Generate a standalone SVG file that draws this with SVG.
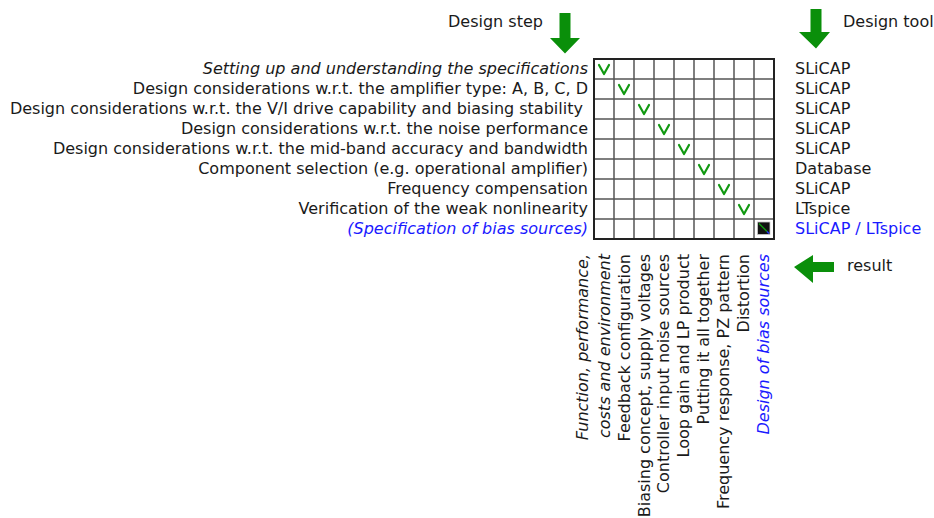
<svg xmlns="http://www.w3.org/2000/svg" width="934" height="518" viewBox="0 0 934 518">
<defs>
<style>
text{font-family:"DejaVu Sans","Verdana",sans-serif;font-size:16px;fill:#1a1a1a}
.e{text-anchor:end}
.i{font-style:italic}
.b{fill:#1a1aff}
.arr{fill:#0a8f0a}
.chk{fill:none;stroke:#119911;stroke-width:2.2;stroke-linecap:round;stroke-linejoin:round}
.grid{stroke:#555;stroke-width:1.5}
</style>
<path id="chk" class="chk" d="M-5,-4 L0,5 L5,-4"/>
</defs>
<rect width="934" height="518" fill="#fff"/>
<g id="arrows">
<polygon class="arr" points="559.5,13 570.5,13 570.5,38 580,38 565,53.5 550,38 559.5,38"/>
<polygon class="arr" points="810.5,9 821.5,9 821.5,32 830,32 816,48.5 799,32 810.5,32"/>
<polygon class="arr" points="794,267 813,255 813,262 834,262 834,272 813,272 813,283"/>
</g>
<g id="headers">
<text x="448" y="27">Design step</text>
<text x="843" y="27">Design tool</text>
<text x="847" y="271">result</text>
</g>
<g id="grid">
<g class="grid">
<line x1="614" y1="59" x2="614" y2="239"/><line x1="634" y1="59" x2="634" y2="239"/><line x1="654" y1="59" x2="654" y2="239"/><line x1="674" y1="59" x2="674" y2="239"/><line x1="694" y1="59" x2="694" y2="239"/><line x1="714" y1="59" x2="714" y2="239"/><line x1="734" y1="59" x2="734" y2="239"/><line x1="754" y1="59" x2="754" y2="239"/>
<line x1="594" y1="79" x2="774" y2="79"/><line x1="594" y1="99" x2="774" y2="99"/><line x1="594" y1="119" x2="774" y2="119"/><line x1="594" y1="139" x2="774" y2="139"/><line x1="594" y1="159" x2="774" y2="159"/><line x1="594" y1="179" x2="774" y2="179"/><line x1="594" y1="199" x2="774" y2="199"/><line x1="594" y1="219" x2="774" y2="219"/>
</g>
<rect x="594" y="59" width="180" height="180" fill="none" stroke="#222" stroke-width="2"/>
<use href="#chk" x="604" y="69"/><use href="#chk" x="624" y="89"/><use href="#chk" x="644" y="109"/><use href="#chk" x="664" y="129"/><use href="#chk" x="684" y="149"/><use href="#chk" x="704" y="169"/><use href="#chk" x="724" y="189"/><use href="#chk" x="744" y="209"/>
<rect x="757.5" y="222" width="12.5" height="12.5" fill="#111" stroke="#ccc" stroke-width="0.8"/>
<line x1="759" y1="223.5" x2="767" y2="231.5" stroke="#119911" stroke-width="1.5"/>
<line x1="767" y1="231.5" x2="769" y2="233.5" stroke="#2233ff" stroke-width="1.5"/>
</g>
<g id="steps">
<text class="e i" x="588" y="74">Setting up and understanding the specifications</text>
<text class="e" x="588" y="94">Design considerations w.r.t. the amplifier type: A, B, C, D</text>
<text class="e" x="588" y="114" xml:space="preserve">Design considerations w.r.t. the V/I drive capability and biasing stability </text>
<text class="e" x="588" y="134">Design considerations w.r.t. the noise performance</text>
<text class="e" x="588" y="154">Design considerations w.r.t. the mid-band accuracy and bandwidth</text>
<text class="e" x="588" y="174">Component selection (e.g. operational amplifier)</text>
<text class="e" x="588" y="194">Frequency compensation</text>
<text class="e" x="588" y="214">Verification of the weak nonlinearity</text>
<text class="e i b" x="588" y="234">(Specification of bias sources)</text>
</g>
<g id="tools">
<text x="795" y="74">SLiCAP</text>
<text x="795" y="94">SLiCAP</text>
<text x="795" y="114">SLiCAP</text>
<text x="795" y="134">SLiCAP</text>
<text x="795" y="154">SLiCAP</text>
<text x="795" y="174">Database</text>
<text x="795" y="194">SLiCAP</text>
<text x="795" y="214">LTspice</text>
<text class="b" x="795" y="234">SLiCAP / LTspice</text>
</g>
<g id="columns">
<text class="e i" transform="translate(588,254) rotate(-90)">Function, performance,</text>
<text class="e i" transform="translate(610,254) rotate(-90)">costs and environment</text>
<text class="e" transform="translate(630,254) rotate(-90)">Feedback configuration</text>
<text class="e" transform="translate(650,254) rotate(-90)">Biasing concept, supply voltages</text>
<text class="e" transform="translate(669,254) rotate(-90)">Controller input noise sources</text>
<text class="e" transform="translate(689,254) rotate(-90)">Loop gain and LP product</text>
<text class="e" transform="translate(709,254) rotate(-90)">Putting it all together</text>
<text class="e" transform="translate(729,254) rotate(-90)">Frequency response, PZ pattern</text>
<text class="e" transform="translate(749,254) rotate(-90)">Distortion</text>
<text class="e i b" transform="translate(769,254) rotate(-90)">Design of bias sources</text>
</g>
</svg>
